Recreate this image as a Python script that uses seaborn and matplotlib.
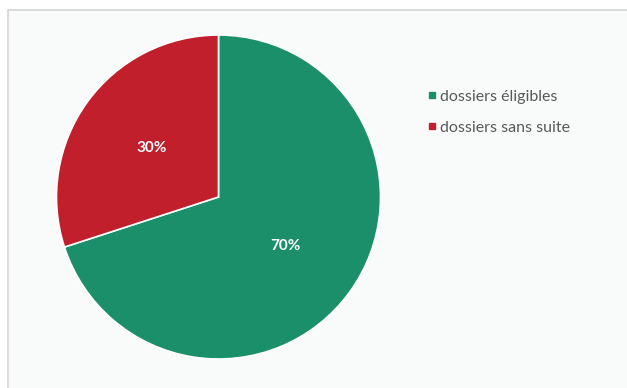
import matplotlib
matplotlib.use("Agg")
import matplotlib.pyplot as plt
import seaborn as sns
from matplotlib.patches import Rectangle
from matplotlib.lines import Line2D

categories = ["dossiers éligibles", "dossiers sans suite"]
values = [70, 30]
colors = ["#1a8f69", "#c01f2b"]

sns.set_theme(style="white")
plt.rcParams["font.family"] = ["Lato", "DejaVu Sans"]

W, H = 627, 388
fig = plt.figure(figsize=(W / 100, H / 100), dpi=100)
fig.patch.set_facecolor("white")

# panel frame
fig.patches.append(Rectangle((8 / W, -0.05), 1.1, (H - 10) / H + 0.05,
                             transform=fig.transFigure, facecolor="#f9fafa",
                             edgecolor="#d4d4d4", linewidth=1.2, zorder=-10))

cx, cy, r = 218.5, 197, 162
ax = fig.add_axes([(cx - r) / W, (H - cy - r) / H, 2 * r / W, 2 * r / H])
ax.set_zorder(5)
ax.set_facecolor("none")
wedges, texts, autotexts = ax.pie(
    values, colors=colors, startangle=90, counterclock=False,
    autopct="%d%%", pctdistance=0.51,
    wedgeprops=dict(edgecolor="white", linewidth=1.2),
    textprops=dict(color="white", fontsize=11, fontweight="bold"))
ax.set_aspect("equal")
ax.set_xlim(-1, 1)
ax.set_ylim(-1, 1)
ax.axis("off")

handles = [Line2D([0], [0], marker="s", linestyle="none", markersize=5,
                  markerfacecolor=c, markeredgecolor=c) for c in colors]
leg = fig.legend(handles, categories, loc="upper left",
                 bbox_to_anchor=(410 / W, 1 - 75 / H), frameon=False,
                 fontsize=11.5, labelcolor="#595959", handletextpad=0.0,
                 handlelength=1.0, labelspacing=1.05)
leg.set_zorder(6)

fig.savefig("out.png", dpi=100)
